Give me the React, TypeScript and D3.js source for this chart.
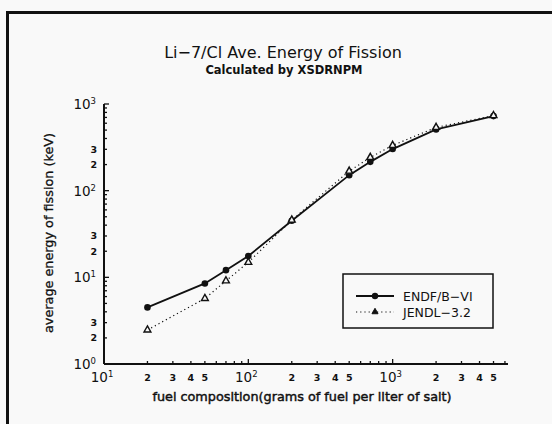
import React from "react";
import * as d3 from "d3";

const fuel = [20, 50, 70, 100, 200, 500, 700, 1000, 2000, 5000];
const endf = [4.5, 8.5, 12.1, 17.6, 45, 151, 215, 302, 509, 725];
const jendl = [2.47, 5.7, 9.1, 14.9, 45.8, 168, 242, 333, 537, 735];
const xMajor = [10, 100, 1000];
const xMinorLabels = [2, 3, 4, 5];
const yMajor = [1, 10, 100, 1000];
const yMinorLabels = [2, 3];

const FONT = "'DejaVu Sans', sans-serif";
const INK = "#111";

export default function App() {
  const W = 552, H = 424;
  const x = d3.scaleLog().domain([10, 6300]).range([104, 508]);
  const y = d3.scaleLog().domain([1, 1000]).range([364, 104]);
  const xt = x.ticks();
  const yt = y.ticks();
  const line = d3.line<number>().x((_, i) => x(fuel[i])).y((d) => y(d));
  const isMajor = (v: number) => Math.abs(Math.log10(v) - Math.round(Math.log10(v))) < 1e-9;
  const lead = (v: number) => Math.round(v / Math.pow(10, Math.floor(Math.log10(v) + 1e-9)));
  const tri = (cx: number, cy: number, r: number) =>
    `M${cx},${cy - r}L${cx + r * 0.95},${cy + r * 0.7}L${cx - r * 0.95},${cy + r * 0.7}Z`;

  return (
    <svg width={W} height={H} style={{ position: "absolute", left: 0, top: 0, background: "#f9f9f9" }} fontFamily={FONT}>
      <rect x={0} y={0} width={W} height={H} fill="#f9f9f9" />
      {/* frame */}
      <line x1={6} x2={W} y1={12.5} y2={12.5} stroke={INK} strokeWidth={3} />
      <line x1={7.5} x2={7.5} y1={11} y2={H} stroke={INK} strokeWidth={3} />

      {/* titles */}
      <text x={283} y={58} textAnchor="middle" fontSize={16} fill={INK}>Li−7/Cl  Ave. Energy of Fission</text>
      <text x={284} y={74} textAnchor="middle" fontSize={11.5} fontWeight="bold" fill={INK}>Calculated by XSDRNPM</text>

      {/* y label */}
      <text transform={`translate(53,233) rotate(-90)`} textAnchor="middle" fontSize={12.8} fill={INK} stroke={INK} strokeWidth={0.3}>
        average energy of fission (keV)
      </text>
      {/* x label */}
      <text x={302} y={401} textAnchor="middle" fontSize={12.8} fill={INK} stroke={INK} strokeWidth={0.45}>
        fuel composition(grams of fuel per liter of salt)
      </text>

      {/* axes */}
      <line x1={104} x2={508} y1={364} y2={364} stroke={INK} strokeWidth={2} />
      <line x1={104} x2={104} y1={104} y2={364} stroke={INK} strokeWidth={2} />
      {xt.map((v, i) => (
        <line key={"xt" + i} x1={x(v)} x2={x(v)} y1={364} y2={364 - (isMajor(v) ? 5 : 3)} stroke={INK} strokeWidth={1.3} />
      ))}
      {yt.map((v, i) => (
        <line key={"yt" + i} x1={104} x2={104 + (isMajor(v) ? 5 : 3)} y1={y(v)} y2={y(v)} stroke={INK} strokeWidth={1.3} />
      ))}
      {/* x labels */}
      {xMajor.map((v) => (
        <text key={"xm" + v} x={x(v) - 2} y={382} textAnchor="middle" fontSize={13.5} fill={INK}>
          10<tspan dy={-5} fontSize={8.5}>{Math.round(Math.log10(v))}</tspan>
        </text>
      ))}
      {xt.filter((v) => !isMajor(v) && xMinorLabels.includes(lead(v))).map((v, i) => (
        <text key={"xl" + i} x={x(v)} y={381} textAnchor="middle" fontSize={9.5} fontWeight="bold" fill={INK}>{lead(v)}</text>
      ))}
      {/* y labels */}
      {yMajor.map((v) => (
        <text key={"ym" + v} x={96} y={y(v) + 5} textAnchor="end" fontSize={13.5} fill={INK}>
          10<tspan dy={-5} fontSize={8.5}>{Math.round(Math.log10(v))}</tspan>
        </text>
      ))}
      {yt.filter((v) => !isMajor(v) && yMinorLabels.includes(lead(v))).map((v, i) => (
        <text key={"yl" + i} x={97} y={y(v) + 3.5} textAnchor="end" fontSize={9.5} fontWeight="bold" fill={INK}>{lead(v)}</text>
      ))}

      {/* series */}
      <path d={line(jendl) || ""} fill="none" stroke={INK} strokeWidth={1.2} strokeDasharray="1.2,3" />
      <path d={line(endf) || ""} fill="none" stroke={INK} strokeWidth={1.8} />
      {endf.map((v, i) => (
        <circle key={"c" + i} cx={x(fuel[i])} cy={y(v)} r={3.3} fill={INK} />
      ))}
      {jendl.map((v, i) => (
        <path key={"t" + i} d={tri(x(fuel[i]), y(v) - 0.5, 3.6)} fill="#f9f9f9" stroke={INK} strokeWidth={1.4} />
      ))}

      {/* legend */}
      <rect x={343} y={274} width={150} height={54} fill="none" stroke={INK} strokeWidth={1.5} />
      <line x1={356} x2={394} y1={296} y2={296} stroke={INK} strokeWidth={1.8} />
      <circle cx={375} cy={296} r={3.2} fill={INK} />
      <text x={403} y={300.5} fontSize={12.5} fill={INK}>ENDF/B−VI</text>
      <line x1={356} x2={394} y1={312} y2={312} stroke={INK} strokeWidth={1.2} strokeDasharray="1.2,3" />
      <path d={tri(375, 311.5, 3.2)} fill={INK} stroke={INK} strokeWidth={1} />
      <text x={403} y={316.5} fontSize={12.5} fill={INK}>JENDL−3.2</text>
    </svg>
  );
}
